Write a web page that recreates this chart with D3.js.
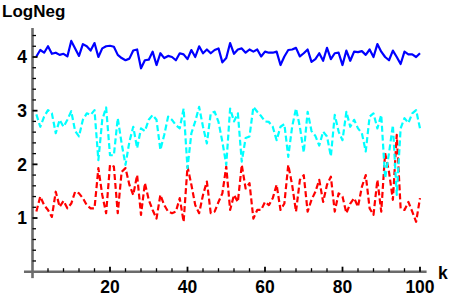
<!DOCTYPE html>
<html>
<head>
<meta charset="utf-8">
<script src="https://cdn.jsdelivr.net/npm/d3@7"></script>
<style>
  html, body { margin: 0; padding: 0; background: #fff; }
  svg { display: block; }
  text { font-family: "Liberation Sans", Arial, Helvetica, sans-serif; font-weight: bold; fill: #000; }
</style>
</head>
<body>
<div id="chart-area"></div>
<script>
// LogNeg vs k, three series

// series values for k = 1..100
const blueVals = [
  4.01, 4.13, 4.08, 4.20, 4.06, 4.08, 4.04, 4.06, 4.01, 4.30,
  4.16, 4.02, 4.24, 4.20, 4.12, 4.26, 4.00, 4.16, 4.20, 4.21,
  4.19, 4.04, 3.98, 3.94, 3.97, 4.12, 4.14, 3.79, 3.94, 3.95,
  4.10, 3.85, 4.07, 3.98, 4.02, 4.00, 3.94, 4.07, 4.05, 3.96,
  4.13, 4.00, 4.20, 4.07, 4.14, 4.07, 4.13, 4.16, 3.90, 3.98,
  4.26, 4.06, 4.14, 4.16, 4.08, 4.14, 4.10, 4.14, 4.01, 4.10,
  4.08, 4.08, 4.10, 3.85, 4.01, 4.13, 4.14, 4.17, 4.01, 4.07,
  4.14, 3.91, 3.96, 4.07, 3.93, 4.17, 3.96, 4.07, 4.08, 3.85,
  4.12, 3.93, 4.10, 4.09, 4.11, 4.04, 4.14, 4.00, 4.24, 4.10,
  4.00, 3.94, 4.12, 4.00, 3.87, 4.10, 4.05, 4.05, 4.00, 4.07
];

const cyanVals = [
  2.93, 2.70, 2.89, 3.01, 2.95, 2.58, 2.83, 2.70, 2.83, 2.99,
  2.62, 2.52, 2.83, 2.95, 2.92, 3.01, 2.08, 2.83, 3.06, 2.17,
  2.17, 2.86, 2.39, 1.99, 2.42, 2.70, 2.30, 2.67, 2.62, 2.83,
  2.92, 2.83, 2.27, 2.55, 2.89, 2.83, 2.73, 2.67, 3.04, 1.93,
  2.58, 2.80, 3.07, 2.70, 2.39, 2.95, 2.98, 2.79, 2.42, 1.99,
  3.04, 2.80, 2.95, 2.05, 2.49, 2.52, 3.07, 2.98, 2.90, 2.80,
  2.79, 2.70, 2.45, 2.70, 2.75, 2.14, 2.70, 3.04, 2.70, 2.22,
  2.98, 2.62, 2.53, 2.35, 2.61, 2.52, 2.15, 2.92, 2.61, 2.45,
  2.98, 2.70, 2.83, 2.67, 2.58, 2.24, 2.89, 2.95, 2.67, 2.92,
  1.74, 2.21, 2.73, 1.43, 2.67, 2.86, 2.77, 2.95, 3.01, 2.67
];

const redVals = [
  1.12, 1.40, 1.24, 1.15, 1.02, 1.49, 1.21, 1.32, 1.18, 1.27,
  1.49, 1.46, 1.37, 1.24, 1.18, 1.18, 1.93, 1.43, 1.09, 1.99,
  1.96, 1.09, 1.86, 1.93, 1.62, 1.43, 1.80, 1.06, 1.65, 1.34,
  1.15, 0.99, 1.43, 1.24, 1.12, 1.09, 1.12, 1.37, 0.93, 1.96,
  1.62, 1.24, 1.09, 1.43, 1.68, 1.09, 1.12, 1.30, 1.46, 1.96,
  1.15, 1.43, 1.30, 1.99, 1.55, 1.65, 0.99, 1.15, 1.15, 1.30,
  1.24, 1.37, 1.62, 1.15, 1.27, 1.99, 1.62, 1.12, 1.71, 1.80,
  1.12, 1.34, 1.49, 1.71, 1.30, 1.62, 1.77, 1.12, 1.46, 1.40,
  1.09, 1.27, 1.37, 1.21, 1.58, 1.80, 1.18, 1.06, 1.71, 1.12,
  2.21, 1.86, 1.34, 2.55, 1.18, 1.15, 1.30, 1.12, 0.93, 1.37
];

const xMajorTicks = [20, 40, 60, 80, 100];
const yMajorTicks = [1, 2, 3, 4];
const xLabel = "k";
const yLabel = "LogNeg";

const W = 458, H = 300;

const svg = d3.select("#chart-area")
  .append("svg")
  .attr("width", W)
  .attr("height", H);

// Scales (axes cross at origin, plot range padded a bit)
const xScale = d3.scaleLinear().domain([0, 100]).range([32.5, 420]);
const yScale = d3.scaleLinear().domain([0, 4]).range([271.7, 57]);

const xRange = [-2.2, 101.7];
const yRange = [-0.12, 4.54];

const lineGen = d3.line()
  .x((d, i) => xScale(i + 1))
  .y(d => yScale(d));

// series
const series = [
  { vals: redVals, color: "#ff0000", dash: "6,3" },
  { vals: cyanVals, color: "#00ffff", dash: "6,3" },
  { vals: blueVals, color: "#0000ff", dash: null }
];

svg.selectAll(".series")
  .data(series)
  .enter()
  .append("path")
  .attr("class", "series")
  .attr("fill", "none")
  .attr("stroke", d => d.color)
  .attr("stroke-width", 2.2)
  .attr("stroke-linejoin", "round")
  .attr("stroke-dasharray", d => d.dash)
  .attr("d", d => lineGen(d.vals));

// axes lines
const axisColor = "#6b6b6b";
svg.append("line")
  .attr("x1", xScale(xRange[0])).attr("x2", xScale(xRange[1]))
  .attr("y1", yScale(0)).attr("y2", yScale(0))
  .attr("stroke", axisColor).attr("stroke-width", 2.6);
svg.append("line")
  .attr("x1", xScale(0)).attr("x2", xScale(0))
  .attr("y1", yScale(yRange[0])).attr("y2", yScale(yRange[1]))
  .attr("stroke", axisColor).attr("stroke-width", 2.6);

// ticks: majors + minors (minor every 1/5 of a major step)
const xMinor = d3.range(4, 101, 4).filter(v => v % 20 !== 0);
const yMinor = d3.range(0.2, 4.5, 0.2).filter(v => Math.abs(v - Math.round(v)) > 0.01);

svg.selectAll(".xtick")
  .data(xMajorTicks.map(v => ({ v, len: 5, w: 1.8 })).concat(xMinor.map(v => ({ v, len: 3.5, w: 1.3 }))))
  .enter().append("line")
  .attr("x1", d => xScale(d.v)).attr("x2", d => xScale(d.v))
  .attr("y1", yScale(0)).attr("y2", d => yScale(0) - d.len)
  .attr("stroke", "#000").attr("stroke-width", d => d.w);

svg.selectAll(".ytick")
  .data(yMajorTicks.map(v => ({ v, len: 5, w: 1.8 })).concat(yMinor.map(v => ({ v, len: 3.5, w: 1.3 }))))
  .enter().append("line")
  .attr("x1", xScale(0)).attr("x2", d => xScale(0) + d.len)
  .attr("y1", d => yScale(d.v)).attr("y2", d => yScale(d.v))
  .attr("stroke", "#000").attr("stroke-width", d => d.w);

// tick labels
svg.selectAll(".xlab")
  .data(xMajorTicks)
  .enter().append("text")
  .attr("x", d => xScale(d))
  .attr("y", 293)
  .attr("text-anchor", "middle")
  .style("font-size", "17.5px")
  .text(d => d);

svg.selectAll(".ylab")
  .data(yMajorTicks)
  .enter().append("text")
  .attr("x", 27)
  .attr("y", d => yScale(d) + 6.3)
  .attr("text-anchor", "end")
  .style("font-size", "17.5px")
  .text(d => d);

// axis labels
svg.append("text")
  .attr("x", 438).attr("y", 279)
  .style("font-size", "17.5px")
  .text(xLabel);

svg.append("text")
  .attr("x", 2).attr("y", 17)
  .style("font-size", "17px")
  .text(yLabel);
</script>
</body>
</html>
